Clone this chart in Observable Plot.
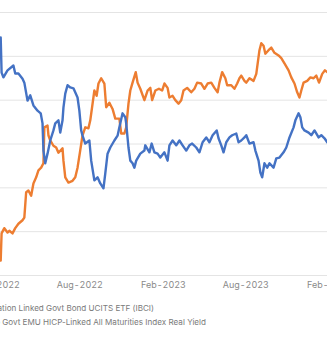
<!DOCTYPE html>
<html>
<head>
<meta charset="utf-8">
<script src="https://cdn.jsdelivr.net/npm/d3@7"></script>
<script src="https://cdn.jsdelivr.net/npm/@observablehq/plot@0.6"></script>
<style>
  html, body { margin: 0; padding: 0; background: #fff; }
  #wrap { position: relative; width: 327px; height: 344px; overflow: hidden; font-family: Inter, "Open Sans", sans-serif; }
  #chart { position: absolute; left: -30px; top: 0; width: 387px; height: 295px; }
  #chart svg { max-width: none !important; }
  .leg { position: absolute; white-space: nowrap; font-size: 8.1px; line-height: 12px; color: #7a7a7a; text-align: right; }
  .sw { display: inline-block; width: 14px; height: 2px; vertical-align: middle; margin-right: 6px; }
</style>
</head>
<body>
<div id="wrap">
  <div id="chart"></div>
  <div class="leg" id="leg1"></div>
  <div class="leg" id="leg2"></div>
</div>
<script>
// Series 1: iShares € Inflation Linked Govt Bond UCITS ETF (IBCI) — price (left axis)
const etfDates = ["2022-02-08","2022-02-10","2022-02-14","2022-02-23","2022-03-08","2022-03-12","2022-03-19","2022-03-28","2022-04-01","2022-04-08","2022-04-14","2022-04-21","2022-04-30","2022-05-07","2022-05-11","2022-05-13","2022-05-17","2022-05-22","2022-05-28","2022-06-04","2022-06-08","2022-06-15","2022-06-19","2022-06-24","2022-06-26","2022-06-30","2022-07-05","2022-07-11","2022-07-18","2022-07-27","2022-07-31","2022-08-04","2022-08-07","2022-08-13","2022-08-22","2022-08-26","2022-09-02","2022-09-09","2022-09-15","2022-09-22","2022-09-26","2022-10-01","2022-10-07","2022-10-16","2022-10-23","2022-10-27","2022-11-03","2022-11-09","2022-11-11","2022-11-16","2022-11-20","2022-11-25","2022-11-29","2022-12-03","2022-12-12","2022-12-21","2022-12-23","2023-01-01","2023-01-06","2023-01-12","2023-01-19","2023-01-25","2023-02-03","2023-02-10","2023-02-14","2023-02-21","2023-03-01","2023-03-08","2023-03-15","2023-03-23","2023-03-30","2023-04-05","2023-04-14","2023-04-21","2023-04-28","2023-05-06","2023-05-13","2023-05-20","2023-05-29","2023-06-02","2023-06-08","2023-06-13","2023-06-19","2023-06-26","2023-07-02","2023-07-11","2023-07-16","2023-07-22","2023-07-29","2023-08-02","2023-08-09","2023-08-18","2023-08-22","2023-08-29","2023-09-02","2023-09-06","2023-09-11","2023-09-17","2023-09-22","2023-10-01","2023-10-07","2023-10-14","2023-10-23","2023-10-29","2023-11-05","2023-11-14","2023-11-18","2023-11-25","2023-11-29","2023-12-03","2023-12-08","2023-12-17","2023-12-23","2023-12-30","2024-01-08","2024-01-14","2024-01-21","2024-01-27"];
const etfValues = [254.3,246.3,245.2,246.8,247.9,246.1,246.1,244.9,244.0,239.9,241.1,238.8,237.6,237.0,234.7,228.5,225.6,227.8,230.8,233.1,234.7,235.4,232.6,235.4,238.3,241.5,243.4,242.9,242.7,240.6,237.6,233.1,231.9,230.1,230.8,226.2,221.7,222.4,221.0,219.9,223.3,227.8,229.2,230.8,231.9,233.8,237.0,236.1,234.7,229.2,226.2,225.6,224.6,226.2,227.8,228.5,229.7,228.1,230.1,228.1,227.8,226.9,228.1,226.2,229.7,230.8,229.7,230.8,229.7,228.5,229.7,230.1,229.2,228.1,230.4,231.5,230.4,232.0,233.1,231.3,229.7,228.1,230.4,231.5,232.0,232.4,230.4,230.8,231.5,232.0,230.1,230.4,228.5,226.2,223.5,222.4,225.6,224.6,225.6,224.6,226.7,226.9,228.1,229.2,231.5,233.8,235.4,237.0,236.1,233.8,233.1,232.6,232.0,233.1,231.5,232.0,231.3,230.4];

// Series 2: Govt EMU HICP-Linked All Maturities Index Real Yield (%, right axis)
const yieldDates = ["2022-02-08","2022-02-10","2022-02-16","2022-02-23","2022-02-27","2022-03-06","2022-03-12","2022-03-19","2022-03-28","2022-04-01","2022-04-05","2022-04-10","2022-04-16","2022-04-21","2022-04-27","2022-05-02","2022-05-08","2022-05-13","2022-05-15","2022-05-22","2022-05-24","2022-05-28","2022-06-04","2022-06-10","2022-06-15","2022-06-24","2022-06-26","2022-06-30","2022-07-07","2022-07-16","2022-07-22","2022-07-27","2022-08-02","2022-08-07","2022-08-13","2022-08-20","2022-08-24","2022-09-02","2022-09-07","2022-09-11","2022-09-17","2022-09-24","2022-09-28","2022-10-05","2022-10-12","2022-10-18","2022-10-27","2022-10-31","2022-11-07","2022-11-11","2022-11-16","2022-11-20","2022-11-25","2022-12-02","2022-12-06","2022-12-12","2022-12-21","2022-12-28","2023-01-03","2023-01-07","2023-01-14","2023-01-22","2023-01-29","2023-02-03","2023-02-10","2023-02-14","2023-02-21","2023-02-27","2023-03-06","2023-03-12","2023-03-17","2023-03-25","2023-04-03","2023-04-10","2023-04-16","2023-04-25","2023-05-02","2023-05-09","2023-05-17","2023-05-24","2023-05-31","2023-06-04","2023-06-10","2023-06-17","2023-06-21","2023-06-30","2023-07-07","2023-07-13","2023-07-18","2023-07-22","2023-07-29","2023-08-02","2023-08-09","2023-08-18","2023-08-24","2023-08-31","2023-09-04","2023-09-09","2023-09-13","2023-09-20","2023-09-26","2023-10-03","2023-10-12","2023-10-18","2023-10-25","2023-11-03","2023-11-09","2023-11-16","2023-11-22","2023-11-27","2023-12-01","2023-12-06","2023-12-14","2023-12-21","2023-12-28","2024-01-03","2024-01-09","2024-01-16","2024-01-22","2024-01-27"];
const yieldValues = [-1.83,-1.52,-1.46,-1.51,-1.49,-1.52,-1.46,-1.41,-1.37,-1.34,-1.05,-1.03,-1.09,-0.95,-0.88,-0.80,-0.77,-0.72,-0.31,-0.29,-0.40,-0.46,-0.52,-0.54,-0.60,-0.55,-0.69,-0.88,-0.94,-0.92,-0.88,-0.77,-0.57,-0.40,-0.31,-0.32,-0.23,0.11,0.05,0.19,0.25,0.19,-0.08,-0.03,-0.10,-0.21,-0.21,-0.38,-0.38,-0.31,-0.04,0.11,0.20,0.32,0.20,0.13,0.00,0.11,0.14,0.00,0.11,0.13,0.11,0.19,0.14,0.03,0.05,0.00,-0.04,0.00,0.11,0.14,0.09,0.13,0.20,0.19,0.13,0.19,0.20,0.14,0.09,0.20,0.32,0.25,0.17,0.17,0.13,0.19,0.25,0.28,0.22,0.20,0.25,0.22,0.30,0.57,0.65,0.62,0.53,0.57,0.60,0.54,0.51,0.48,0.42,0.34,0.26,0.19,0.09,0.03,0.11,0.20,0.22,0.26,0.25,0.28,0.20,0.30,0.34,0.32];

const seriesNames = ["iShares € Inflation Linked Govt Bond UCITS ETF (IBCI)", "Bloomberg Euro Govt EMU HICP-Linked All Maturities Index Real Yield"];
const seriesColors = ["#4472C4", "#ED7D31"];
const leftAxis = [200, 260];     // ETF price gridline range (step 10)
const rightAxis = [-2, 1];       // real yield gridline range (step 0.5)
const tickLabels = ["2022-02-01","2022-08-01","2023-02-01","2023-08-01","2024-02-01"];
const xExtent = ["2022-02-01","2024-02-01"];

const parse = d3.utcParse("%Y-%m-%d");
const etf = etfDates.map((d, i) => ({date: parse(d), value: etfValues[i]}));
const toLeft = d3.scaleLinear(rightAxis, leftAxis);
const yld = yieldDates.map((d, i) => ({date: parse(d), value: toLeft(yieldValues[i])}));
const grid = d3.range(leftAxis[0], leftAxis[1] + 0.001, 10);

const chart = Plot.plot({
  width: 387,
  height: 295,
  marginTop: 12,
  marginBottom: 20,
  marginLeft: 0,
  marginRight: 0,
  style: {fontFamily: "Inter, 'Open Sans', sans-serif", fontSize: "9px", color: "#888", background: "transparent", overflow: "visible", maxWidth: "none"},
  x: {type: "utc", domain: xExtent.map(parse), range: [27, 359]},
  y: {domain: leftAxis, axis: null},
  marks: [
    Plot.ruleY(grid, {stroke: "#e4e4e4", strokeWidth: 1}),
    Plot.axisX({ticks: tickLabels.map(parse), tickFormat: d3.utcFormat("%b-%Y"), tickSize: 0, tickPadding: 6, label: null, fill: "#8a8a8a"}),
    Plot.lineY(yld, {x: "date", y: "value", stroke: seriesColors[1], strokeWidth: 2.4, strokeLinejoin: "round"}),
    Plot.lineY(etf, {x: "date", y: "value", stroke: seriesColors[0], strokeWidth: 2.4, strokeLinejoin: "round"})
  ]
});
chart.style.maxWidth = "none";
chart.setAttribute("width", 387);
chart.setAttribute("height", 295);
document.getElementById("chart").appendChild(chart);

const leg1 = document.getElementById("leg1");
leg1.innerHTML = `<span class="sw" style="background:${seriesColors[0]}"></span>${seriesNames[0]}`;
leg1.style.right = (327 - 154) + "px";
leg1.style.top = "302px";
const leg2 = document.getElementById("leg2");
leg2.innerHTML = `<span class="sw" style="background:${seriesColors[1]}"></span>${seriesNames[1]}`;
leg2.style.right = (327 - 206) + "px";
leg2.style.top = "316px";
</script>
</body>
</html>
